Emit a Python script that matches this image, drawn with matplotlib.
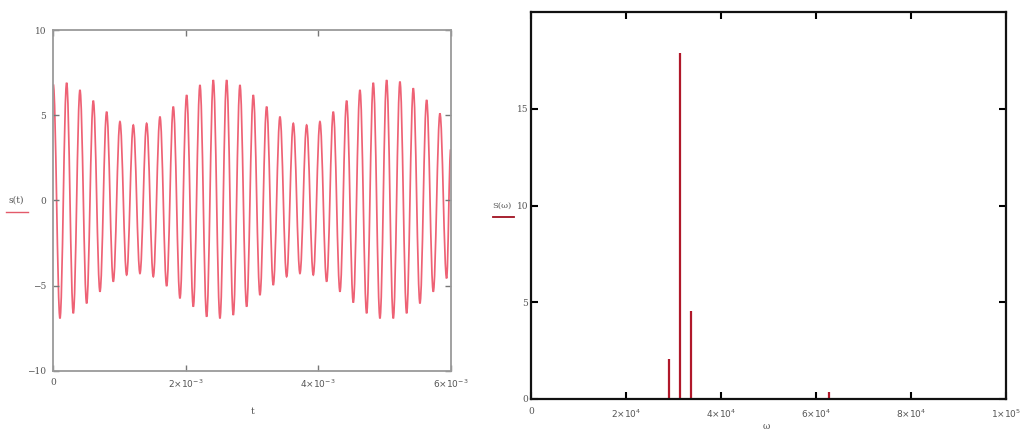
import numpy as np
import matplotlib
matplotlib.use("Agg")
import matplotlib.pyplot as plt
from matplotlib.path import Path
from matplotlib.patches import PathPatch
from matplotlib.lines import Line2D

# s(t): successive extrema (peak, trough, peak, ...)
half_period = 1.0065e-4          # time between a peak and the next trough
s_extrema = [
    6.80, -6.93, 6.90, -6.63, 6.48, -6.05, 5.85, -5.36, 5.20, -4.77,
    4.62, -4.38, 4.42, -4.29, 4.52, -4.48, 4.91, -5.03, 5.50, -5.75,
    6.18, -6.24, 6.77, -6.83, 7.06, -6.93, 7.06, -6.73, 6.77, -6.24,
    6.18, -5.56, 5.50, -4.97, 4.91, -4.48, 4.52, -4.29, 4.42, -4.38,
    4.62, -4.77, 5.20, -5.36, 5.85, -6.00, 6.48, -6.63, 6.90, -6.93,
    7.06, -6.93, 6.97, -6.63, 6.58, -6.05, 5.89, -5.36, 5.10, -4.58,
]
t_end, s_end = 6e-3, 3.0

# S(w): spectral lines
omega = [29100, 31300, 33700, 62800]
S_omega = [2.08, 17.9, 4.54, 0.35]

t_ticks = [0, 2e-3, 4e-3, 6e-3]
t_labels = ['0', r'$2{\times}10^{-3}$', r'$4{\times}10^{-3}$', r'$6{\times}10^{-3}$']
s_ticks = [-10, -5, 0, 5, 10]
s_labels = ['\u221210', '\u22125', '0', '5', '10']
w_ticks = [0, 2e4, 4e4, 6e4, 8e4, 1e5]
w_labels = ['0', r'$2{\times}10^{4}$', r'$4{\times}10^{4}$', r'$6{\times}10^{4}$',
            r'$8{\times}10^{4}$', r'$1{\times}10^{5}$']
S_ticks = [0, 5, 10, 15]
S_labels = ['0', '5', '10', '15']

W, H = 1023, 433
fig = plt.figure(figsize=(W / 100, H / 100), dpi=100)
fig.patch.set_facecolor('white')


def frac(x0, y0, x1, y1):
    return [x0 / W, 1 - y1 / H, (x1 - x0) / W, (y1 - y0) / H]


lab_kw = dict(fontsize=6.5, color='#555555', family='DejaVu Serif')

# ---- left: time signal ----
ax1 = fig.add_axes(frac(53.3, 30, 450.7, 370.7))
tt = [i * half_period for i in range(len(s_extrema))] + [t_end]
ss = s_extrema + [s_end]
k = 0.363
verts = [(tt[0], ss[0])]
codes = [Path.MOVETO]
for i in range(len(tt) - 1):
    dt = tt[i + 1] - tt[i]
    verts += [(tt[i] + k * dt, ss[i]), (tt[i + 1] - k * dt, ss[i + 1]), (tt[i + 1], ss[i + 1])]
    codes += [Path.CURVE4] * 3
ax1.add_patch(PathPatch(Path(verts, codes), facecolor='none', edgecolor='#ee6275', lw=1.25))
ax1.set_xlim(0, 6e-3)
ax1.set_ylim(-10, 10)
ax1.set_xticks(t_ticks)
ax1.set_xticklabels(t_labels, **lab_kw)
ax1.set_yticks(s_ticks)
ax1.set_yticklabels(s_labels, **lab_kw)
ax1.tick_params(direction='in', length=4, width=1, color='#777777', top=True, right=True, pad=5)
for sp in ax1.spines.values():
    sp.set_color('#9a9a9a')
    sp.set_linewidth(1.3)

fig.text(16 / W, 1 - 200 / H, 's(t)', ha='center', va='center', **lab_kw)
fig.add_artist(Line2D([6 / W, 28 / W], [1 - 212 / H] * 2, color='#e35a6a', lw=1))
fig.text(253 / W, 1 - 412 / H, 't', ha='center', va='center', **lab_kw)

# ---- right: spectrum ----
ax2 = fig.add_axes(frac(531, 12, 1006, 399))
ax2.vlines(omega, 0, S_omega, color='#b0182a', lw=1.6)
ax2.set_xlim(0, 1e5)
ax2.set_ylim(0, 20)
ax2.set_xticks(w_ticks)
ax2.set_xticklabels(w_labels, **lab_kw)
ax2.set_yticks(S_ticks)
ax2.set_yticklabels(S_labels, **lab_kw)
ax2.tick_params(direction='in', length=5, width=1.5, color='black', top=True, right=True, pad=6)
ax2.tick_params(axis='y', pad=2)
for sp in ax2.spines.values():
    sp.set_color('#111111')
    sp.set_linewidth(1.6)

fig.text(502 / W, 1 - 206 / H, 'S(\u03c9)', ha='center', va='center',
         fontsize=6, color='#555555', family='DejaVu Serif')
fig.add_artist(Line2D([493 / W, 514 / W], [1 - 217 / H] * 2, color='#a01020', lw=1.3))
fig.text(766 / W, 1 - 422 / H, '\u03c9', ha='center', va='top', **lab_kw)

fig.savefig('out.png', dpi=100)
